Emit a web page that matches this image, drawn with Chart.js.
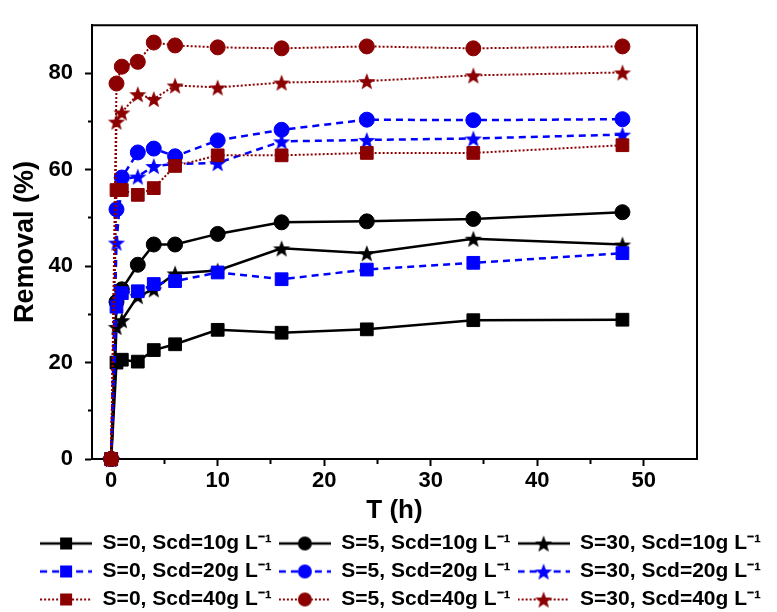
<!DOCTYPE html>
<html>
<head>
<meta charset="utf-8">
<script src="https://cdn.jsdelivr.net/npm/chart.js@4.4.1/dist/chart.umd.min.js"></script>
<style>
  html, body { margin: 0; padding: 0; background: #fff; }
  #wrap { width: 777px; height: 612px; position: relative; }
</style>
</head>
<body>
<div id="wrap"><canvas id="removalChart"></canvas></div>
<script>
// Removal (%) vs time
const times = [0, 0.5, 1, 2.5, 4, 6, 10, 16, 24, 34, 48];

const s0_10  = [0, 20.0, 20.6, 20.2, 22.6, 23.8, 26.8, 26.2, 26.9, 28.8, 28.9];
const s5_10  = [0, 32.6, 35.2, 40.3, 44.5, 44.5, 46.7, 49.1, 49.3, 49.8, 51.2];
const s30_10 = [0, 27.4, 28.8, 33.8, 35.2, 38.5, 39.1, 43.7, 42.7, 45.7, 44.5];
const s0_20  = [0, 31.6, 34.4, 34.8, 36.3, 36.9, 38.7, 37.3, 39.3, 40.7, 42.7];
const s5_20  = [0, 51.8, 58.4, 63.6, 64.4, 62.8, 66.1, 68.3, 70.4, 70.3, 70.5];
const s30_20 = [0, 44.9, 58.0, 58.6, 60.8, 61.2, 61.4, 65.9, 66.2, 66.5, 67.3];
const s0_40  = [0, 55.8, 55.8, 54.8, 56.2, 60.8, 63.0, 63.0, 63.5, 63.5, 65.1];
const s5_40  = [0, 77.9, 81.4, 82.4, 86.4, 85.8, 85.4, 85.2, 85.6, 85.2, 85.6];
const s30_40 = [0, 70.0, 71.9, 75.7, 74.7, 77.5, 77.1, 78.1, 78.4, 79.6, 80.2];

const xTicks = [0, 5, 10, 15, 20, 25, 30, 35, 40, 45, 50];
const xLabels = [0, 10, 20, 30, 40, 50];
const yTicks = [0, 10, 20, 30, 40, 50, 60, 70, 80];
const yLabels = [0, 20, 40, 60, 80];

const FONT = "'Liberation Sans', Arial, sans-serif";
const BLACK = '#000000';
const BLUE = '#0000ff';
const RED = '#8b0000';

/**
 * Estrella rellena de 5 puntas como imagen para pointStyle
 */
function starImage(color, r) {
    const c = document.createElement('canvas');
    c.width = c.height = Math.ceil(r * 2 + 2);
    const g = c.getContext('2d');
    drawStar(g, c.width / 2, c.height / 2 + 1, r, color);
    return c;
}

function drawStar(g, cx, cy, r, color) {
    g.beginPath();
    for (let i = 0; i < 10; i++) {
        const rad = i % 2 === 0 ? r : r * 0.42;
        const a = -Math.PI / 2 + i * Math.PI / 5;
        g.lineTo(cx + rad * Math.cos(a), cy + rad * Math.sin(a));
    }
    g.closePath();
    g.fillStyle = color;
    g.fill();
}

/**
 * Icono de leyenda: línea + marcador
 */
function legendIcon(color, dash, width, marker) {
    const c = document.createElement('canvas');
    c.width = 52;
    c.height = 20;
    const g = c.getContext('2d');
    g.strokeStyle = color;
    g.lineWidth = width;
    g.setLineDash(dash);
    g.beginPath();
    g.moveTo(0, 10);
    g.lineTo(52, 10);
    g.stroke();
    g.setLineDash([]);
    g.fillStyle = color;
    if (marker === 'rect') {
        g.fillRect(20, 4, 12, 12);
    } else if (marker === 'circle') {
        g.beginPath();
        g.arc(26, 10, 7, 0, Math.PI * 2);
        g.fill();
    } else {
        drawStar(g, 26, 11, 9, color);
    }
    return c;
}

const styles = {
    black: { color: BLACK, dash: [], width: 2.5, order: 2 },
    blue:  { color: BLUE,  dash: [7, 5], width: 2.5, order: 1 },
    red:   { color: RED,   dash: [2, 2], width: 2, order: 0 },
};

function makeSeries(label, values, style, marker) {
    const s = styles[style];
    let pointStyle = marker;
    let radius = marker === 'rect' ? 9 : 7.5;
    if (marker === 'star') {
        pointStyle = starImage(s.color, 9);
    }
    return {
        label: label,
        data: times.map((t, i) => ({ x: t, y: values[i] })),
        order: s.order,
        borderColor: s.color,
        backgroundColor: s.color,
        borderWidth: s.width,
        borderDash: s.dash,
        pointStyle: pointStyle,
        pointRadius: radius,
        pointBorderWidth: 1,
        pointBackgroundColor: s.color,
        pointBorderColor: s.color,
        tension: 0,
        clip: false,
        _icon: legendIcon(s.color, s.dash, s.width, marker),
    };
}

const datasets = [
    makeSeries('S=0, Scd=10g L\u207B\u00B9', s0_10, 'black', 'rect'),
    makeSeries('S=5, Scd=10g L\u207B\u00B9', s5_10, 'black', 'circle'),
    makeSeries('S=30, Scd=10g L\u207B\u00B9', s30_10, 'black', 'star'),
    makeSeries('S=0, Scd=20g L\u207B\u00B9', s0_20, 'blue', 'rect'),
    makeSeries('S=5, Scd=20g L\u207B\u00B9', s5_20, 'blue', 'circle'),
    makeSeries('S=30, Scd=20g L\u207B\u00B9', s30_20, 'blue', 'star'),
    makeSeries('S=0, Scd=40g L\u207B\u00B9', s0_40, 'red', 'rect'),
    makeSeries('S=5, Scd=40g L\u207B\u00B9', s5_40, 'red', 'circle'),
    makeSeries('S=30, Scd=40g L\u207B\u00B9', s30_40, 'red', 'star'),
];

// Marco superior y derecho del área del gráfico
const framePlugin = {
    id: 'frame',
    beforeDatasetsDraw(chart) {
        const { ctx, chartArea: a } = chart;
        ctx.save();
        ctx.strokeStyle = '#000';
        ctx.lineWidth = 2;
        ctx.beginPath();
        ctx.moveTo(a.left, a.top);
        ctx.lineTo(a.right, a.top);
        ctx.lineTo(a.right, a.bottom);
        ctx.stroke();
        ctx.restore();
    },
};

const minorDash = (major, axisFirst) => (ctx) => {
    if (!ctx.tick || major.includes(ctx.tick.value)) return [];
    return axisFirst ? [4, 30] : [0, 3, 4, 30];
};

new Chart(document.getElementById('removalChart'), {
    type: 'line',
    data: { datasets: datasets },
    plugins: [framePlugin],
    options: {
        responsive: true,
        maintainAspectRatio: false,
        devicePixelRatio: 1,
        animation: false,
        events: [],
        layout: { padding: { top: 12, left: 0, right: 9, bottom: -8 } },
        scales: {
            x: {
                type: 'linear',
                min: -1.8,
                max: 55,
                afterBuildTicks: (s) => { s.ticks = xTicks.map(v => ({ value: v })); },
                afterFit: (s) => { s.height = 67; },
                ticks: {
                    color: '#000',
                    padding: 2,
                    font: { family: FONT, size: 22, weight: 'bold' },
                    callback: (v) => xLabels.includes(v) ? String(v) : '',
                    maxRotation: 0,
                    autoSkip: false,
                },
                grid: {
                    drawOnChartArea: false,
                    tickLength: 7,
                    tickColor: '#000',
                    tickWidth: 2,
                    tickBorderDash: minorDash(xLabels, true),
                },
                border: { color: '#000', width: 2 },
                title: {
                    display: true,
                    text: 'T (h)',
                    color: '#000',
                    font: { family: FONT, size: 26, weight: 'bold' },
                    padding: { top: 0, bottom: 0 },
                },
            },
            y: {
                min: 0,
                max: 90,
                afterBuildTicks: (s) => { s.ticks = yTicks.map(v => ({ value: v })); },
                afterFit: (s) => { s.width = 92; },
                ticks: {
                    color: '#000',
                    padding: 12,
                    font: { family: FONT, size: 22, weight: 'bold' },
                    callback: (v) => yLabels.includes(v) ? String(v) : '',
                    autoSkip: false,
                },
                grid: {
                    drawOnChartArea: false,
                    tickLength: 7,
                    tickColor: '#000',
                    tickWidth: 2,
                    tickBorderDash: minorDash(yLabels, false),
                },
                border: { color: '#000', width: 2 },
                title: {
                    display: true,
                    text: 'Removal (%)',
                    color: '#000',
                    font: { family: FONT, size: 27, weight: 'bold' },
                    padding: { top: 9, bottom: 0 },
                },
            },
            // eje vacío solo para reservar margen derecho
            yPad: {
                position: 'right',
                display: true,
                grid: { display: false },
                ticks: { display: false },
                border: { display: false },
                afterFit: (s) => { s.width = 71; },
            },
        },
        plugins: {
            tooltip: { enabled: false },
            legend: {
                position: 'bottom',
                align: 'end',
                labels: {
                    usePointStyle: true,
                    pointStyleWidth: 52,
                    padding: 7,
                    color: '#000',
                    font: { family: FONT, size: 21, weight: 'bold' },
                    generateLabels: (chart) => chart.data.datasets.map((ds, i) => ({
                        text: ds.label,
                        pointStyle: ds._icon,
                        fillStyle: ds.borderColor,
                        strokeStyle: ds.borderColor,
                        lineWidth: 0,
                        hidden: false,
                        datasetIndex: i,
                        fontColor: '#000',
                    })),
                },
            },
        },
    },
});
</script>
</body>
</html>
